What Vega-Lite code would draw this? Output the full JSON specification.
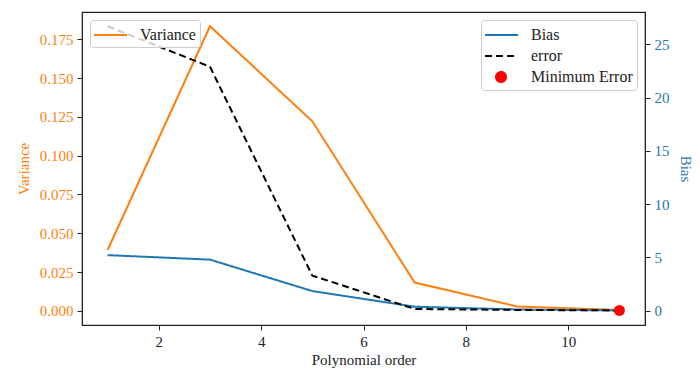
{
  "$schema": "https://vega.github.io/schema/vega-lite/v6.json",
  "width": 563,
  "height": 313,
  "autosize": {"type": "none"},
  "padding": {"left": 82, "top": 12, "right": 55, "bottom": 43},
  "background": "white",
  "config": {
    "font": "Liberation Serif",
    "view": {"stroke": "#222", "strokeWidth": 1.2},
    "axis": {
      "grid": false,
      "labelFont": "Liberation Serif",
      "titleFont": "Liberation Serif",
      "labelFontSize": 15,
      "titleFontSize": 15,
      "titleFontWeight": "normal",
      "tickColor": "#222",
      "domainColor": "#222",
      "tickSize": 5,
      "labelPadding": 4,
      "labelColor": "#222",
      "titleColor": "#222"
    },
    "legend": {
      "labelFont": "Liberation Serif",
      "labelFontSize": 16,
      "labelColor": "#222",
      "fillColor": "rgba(255,255,255,0.8)",
      "strokeColor": "#ccc",
      "cornerRadius": 3,
      "padding": 4,
      "offset": 8,
      "symbolType": "M -1.1,0 L 2.2,0",
      "symbolSize": 400,
      "symbolStrokeWidth": 2,
      "labelOffset": 24,
      "rowPadding": 2
    }
  },
  "datasets": {
    "var": [
      {"order": 1, "series": "Variance", "value": 0.0392},
      {"order": 3, "series": "Variance", "value": 0.1835},
      {"order": 5, "series": "Variance", "value": 0.1222},
      {"order": 7, "series": "Variance", "value": 0.0182},
      {"order": 9, "series": "Variance", "value": 0.0028},
      {"order": 11, "series": "Variance", "value": 0.0005}
    ],
    "be": [
      {"order": 1, "series": "Bias", "value": 5.22},
      {"order": 3, "series": "Bias", "value": 4.8},
      {"order": 5, "series": "Bias", "value": 1.85},
      {"order": 7, "series": "Bias", "value": 0.38},
      {"order": 9, "series": "Bias", "value": 0.12},
      {"order": 11, "series": "Bias", "value": 0.03},
      {"order": 1, "series": "error", "value": 26.7},
      {"order": 3, "series": "error", "value": 22.9},
      {"order": 5, "series": "error", "value": 3.3},
      {"order": 7, "series": "error", "value": 0.17},
      {"order": 9, "series": "error", "value": 0.08},
      {"order": 11, "series": "error", "value": 0.03}
    ],
    "minerr": [
      {"order": 11, "series": "Minimum Error", "value": 0.03}
    ]
  },
  "layer": [
    {
      "data": {"name": "var"},
      "mark": {"type": "line", "strokeWidth": 2},
      "encoding": {
        "x": {
          "field": "order", "type": "quantitative",
          "scale": {"domain": [0.5, 11.5], "nice": false, "zero": false},
          "axis": {"values": [2, 4, 6, 8, 10], "title": "Polynomial order", "titlePadding": 3}
        },
        "y": {
          "field": "value", "type": "quantitative",
          "scale": {"domain": [-0.00917, 0.19267], "nice": false, "zero": false},
          "axis": {
            "orient": "left",
            "values": [0, 0.025, 0.05, 0.075, 0.1, 0.125, 0.15, 0.175],
            "format": ".3f",
            "title": "Variance",
            "titlePadding": 8,
            "labelColor": "#ff7f0e",
            "titleColor": "#ff7f0e"
          }
        },
        "color": {
          "field": "series", "type": "nominal",
          "scale": {"domain": ["Variance"], "range": ["#ff7f0e"]},
          "legend": {"orient": "top-left", "title": null, "zindex": 0}
        }
      }
    },
    {
      "layer": [
        {
          "data": {"name": "be"},
          "mark": {"type": "line", "strokeWidth": 2},
          "encoding": {
            "x": {"field": "order", "type": "quantitative"},
            "y": {
              "field": "value", "type": "quantitative",
              "scale": {"domain": [-1.335, 28.035], "nice": false, "zero": false},
              "axis": {
                "orient": "right",
                "values": [0, 5, 10, 15, 20, 25],
                "title": "Bias",
                "titlePadding": 8,
                "labelColor": "#1f77b4",
                "titleColor": "#1f77b4"
              }
            },
            "color": {
              "field": "series", "type": "nominal",
              "scale": {"domain": ["Bias", "error", "Minimum Error"], "range": ["#1f77b4", "black", "red"]},
              "legend": {
                "orient": "top-right", "title": null,
                "encode": {
                  "symbols": {
                    "update": {
                      "shape": {"signal": "datum.value === 'Minimum Error' ? 'M 0,0 A 0.5,0.5 0 1,0 1,0 A 0.5,0.5 0 1,0 0,0 Z' : 'M -1.1,0 L 2.2,0'"},
                      "fill": {"signal": "datum.value === 'Minimum Error' ? 'red' : 'transparent'"},
                      "strokeDash": {"signal": "datum.value === 'error' ? [7, 4] : [1, 0]"}
                    }
                  }
                }
              }
            },
            "strokeDash": {
              "field": "series", "type": "nominal",
              "scale": {"domain": ["Bias", "error", "Minimum Error"], "range": [[1, 0], [7, 4], [1, 0]]},
              "legend": null
            }
          }
        },
        {
          "data": {"name": "minerr"},
          "mark": {"type": "point", "filled": true, "size": 120, "opacity": 1, "color": "red"},
          "encoding": {
            "x": {"field": "order", "type": "quantitative"},
            "y": {"field": "value", "type": "quantitative"}
          }
        }
      ]
    }
  ],
  "resolve": {
    "scale": {"y": "independent", "color": "independent", "strokeDash": "independent"},
    "axis": {"y": "independent"},
    "legend": {"color": "independent"}
  }
}
